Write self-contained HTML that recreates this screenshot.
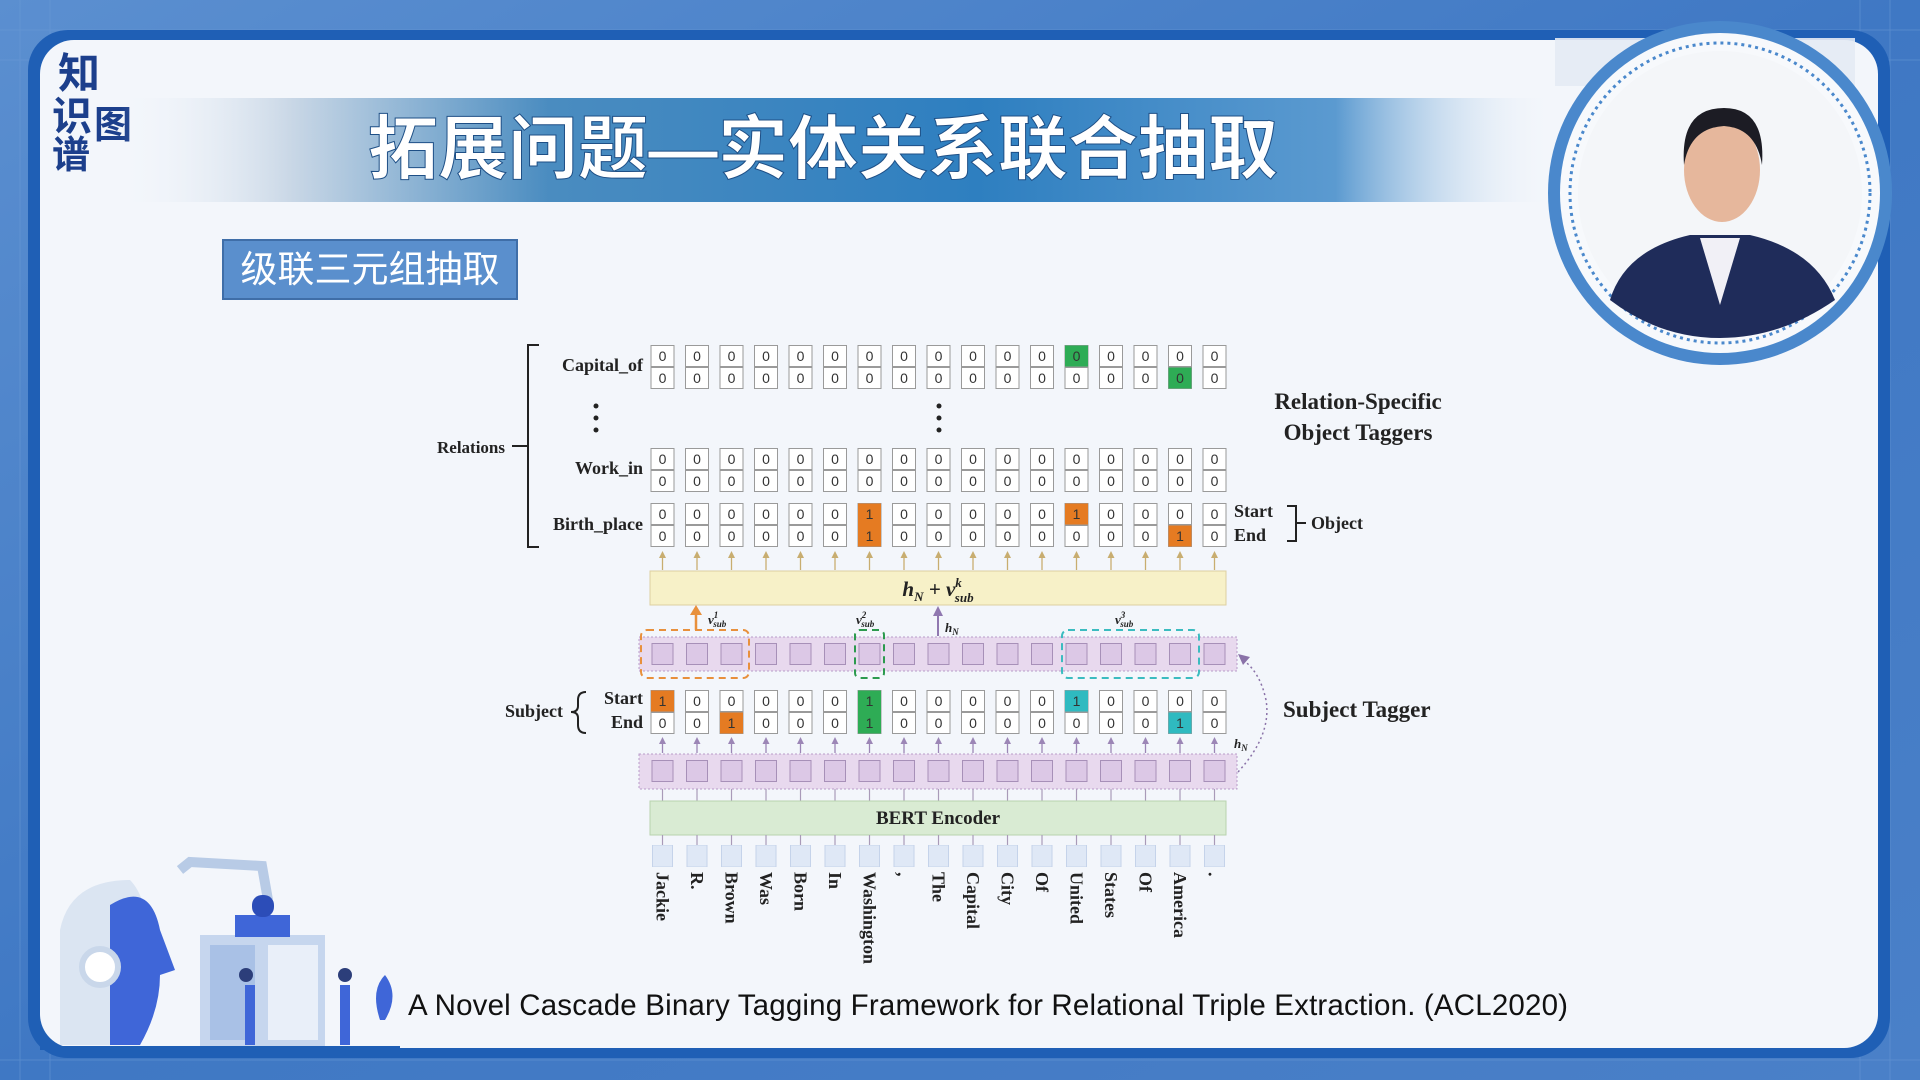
<!DOCTYPE html>
<html><head><meta charset="utf-8">
<style>
html,body{margin:0;padding:0;width:1920px;height:1080px;overflow:hidden;background:#3a74bf;}
svg{display:block}
.s{font-family:"Liberation Serif",serif;font-weight:bold;fill:#222}
</style></head><body>
<svg width="1920" height="1080" viewBox="0 0 1920 1080" xmlns="http://www.w3.org/2000/svg">
<defs>
<linearGradient id="bg" x1="0" y1="0" x2="1" y2="1">
<stop offset="0" stop-color="#5b8fd0"/><stop offset="0.5" stop-color="#3f78c4"/><stop offset="1" stop-color="#4a80c8"/></linearGradient>
<linearGradient id="band" x1="0" y1="0" x2="1" y2="0">
<stop offset="0" stop-color="#f2f6fb" stop-opacity="0"/><stop offset="0.12" stop-color="#c9d7e6"/><stop offset="0.3" stop-color="#4a8cc0"/><stop offset="0.6" stop-color="#2e7fc0"/><stop offset="0.85" stop-color="#5b9ad0"/><stop offset="1" stop-color="#eef3fa" stop-opacity="0"/></linearGradient>
<pattern id="cell" x="0" y="0" width="0.0588235" height="1" patternUnits="objectBoundingBox">
<rect x="0.5" y="0.5" width="23" height="21" fill="#fff" stroke="#9a9a9a"/>
<rect x="0.5" y="22.5" width="23" height="21" fill="#fff" stroke="#9a9a9a"/>
</pattern>
<pattern id="psq" x="0" y="0" width="0.0588235" height="1" patternUnits="objectBoundingBox">
<rect x="1.5" y="0.5" width="21" height="21" fill="#dcc8e6" stroke="#a790b8"/>
</pattern>
<pattern id="tok" x="0" y="0" width="0.0588235" height="1" patternUnits="objectBoundingBox">
<rect x="2" y="0" width="20" height="22" fill="#dfe8f6" stroke="#c5d3ea"/>
</pattern>
<pattern id="arY" x="0" y="0" width="0.0588235" height="1" patternUnits="objectBoundingBox">
<line x1="12" y1="4" x2="12" y2="19" stroke="#c8ad70" stroke-width="1.3"/>
<path d="M8.5 7 L12 0 L15.5 7Z" fill="#c8ad70"/>
</pattern>
<pattern id="arP" x="0" y="0" width="0.0588235" height="1" patternUnits="objectBoundingBox">
<line x1="12" y1="4" x2="12" y2="16" stroke="#9c86b6" stroke-width="1.3"/>
<path d="M8.5 7 L12 0 L15.5 7Z" fill="#9c86b6"/>
</pattern>
<pattern id="ln" x="0" y="0" width="0.0588235" height="1" patternUnits="objectBoundingBox">
<line x1="12" y1="0" x2="12" y2="40" stroke="#a99ab8" stroke-width="1.2"/>
</pattern>
</defs>
<!-- background -->
<rect width="1920" height="1080" fill="url(#bg)"/>
<g stroke="#6b9bd6" stroke-width="1" opacity="0.5">
<path d="M0 30H1920M0 60H1920M0 1060H1920M20 0V1080M50 0V1080M1890 0V1080M1860 0V1080"/>
</g>
<rect x="28" y="30" width="1862" height="1028" rx="40" fill="#1f5fb5"/>
<rect x="40" y="40" width="1838" height="1008" rx="34" fill="#f3f6fb"/>
<!-- logo -->
<g font-family="'Liberation Sans','Noto Sans CJK SC',sans-serif" font-weight="bold" fill="#1c3f8c">
<text x="58" y="88" font-size="42">知</text>
<text x="52" y="130" font-size="40">识</text>
<text x="94" y="138" font-size="38">图</text>
<text x="52" y="168" font-size="38">谱</text>
</g>
<!-- title band -->
<rect x="120" y="98" width="1430" height="104" fill="url(#band)"/>
<text x="823" y="173" text-anchor="middle" font-family="'Liberation Sans','Noto Sans CJK SC',sans-serif" font-weight="bold" font-size="70" fill="#fff" stroke="#1e4f86" stroke-width="1">拓展问题—实体关系联合抽取</text>
<!-- subtitle -->
<rect x="223" y="240" width="294" height="59" fill="#5a8fcd" stroke="#3f6ea8" stroke-width="2"/>
<text x="370" y="282" text-anchor="middle" font-family="'Liberation Sans','Noto Sans CJK SC',sans-serif" font-size="37" fill="#fff">级联三元组抽取</text>
<!-- speaker -->
<rect x="1555" y="38" width="300" height="48" fill="#e4ebf4" opacity="0.9"/>
<circle cx="1720" cy="193" r="172" fill="#4a88cc"/>
<circle cx="1720" cy="193" r="160" fill="#f7f9fc"/>
<circle cx="1720" cy="193" r="150" fill="none" stroke="#4a88cc" stroke-width="3" stroke-dasharray="3 4"/>
<circle cx="1720" cy="193" r="142" fill="#f4f6f9"/>
<path d="M1610 300 Q1625 250 1690 235 L1750 235 Q1815 250 1835 300 Q1780 338 1720 338 Q1660 338 1610 300Z" fill="#1f2c5a"/>
<path d="M1700 238 L1720 305 L1740 238Z" fill="#f1f0f6"/>
<ellipse cx="1722" cy="170" rx="38" ry="52" fill="#e6b79c"/>
<path d="M1684 165 Q1680 108 1724 108 Q1766 108 1762 165 Q1756 128 1724 126 Q1690 128 1684 165Z" fill="#1c1c24"/>
<!-- diagram -->
<g class="s">
<text x="643" y="371" font-size="18" text-anchor="end">Capital_of</text>
<text x="643" y="474" font-size="18" text-anchor="end">Work_in</text>
<text x="643" y="530" font-size="18" text-anchor="end">Birth_place</text>
<text x="505" y="453" font-size="17" text-anchor="end">Relations</text>
<path d="M539 345 H528 V547 H539 M528 446 H512" fill="none" stroke="#222" stroke-width="2"/>
<circle cx="596" cy="406" r="2.5"/><circle cx="596" cy="418" r="2.5"/><circle cx="596" cy="430" r="2.5"/>
<circle cx="939" cy="406" r="2.5"/><circle cx="939" cy="418" r="2.5"/><circle cx="939" cy="430" r="2.5"/>
<text x="1358" y="409" font-size="23" text-anchor="middle">Relation-Specific</text>
<text x="1358" y="440" font-size="23" text-anchor="middle">Object Taggers</text>
<text x="1234" y="517" font-size="18">Start</text>
<text x="1234" y="541" font-size="18">End</text>
<path d="M1287 506 H1296 V541 H1287 M1296 523 H1306" fill="none" stroke="#222" stroke-width="2"/>
<text x="1311" y="529" font-size="18">Object</text>
</g>
<!-- relation grids -->
<rect x="650.5" y="345" width="586.5" height="44" fill="url(#cell)"/>
<rect x="650.5" y="448" width="586.5" height="44" fill="url(#cell)"/>
<rect x="650.5" y="503" width="586.5" height="44" fill="url(#cell)"/>
<rect x="650.5" y="690" width="586.5" height="44" fill="url(#cell)"/>
<g>
<rect x="1065" y="345.5" width="23" height="21" fill="#2eac55"/>
<rect x="1168.5" y="367.5" width="23" height="21" fill="#2eac55"/>
<rect x="858" y="503.5" width="23" height="43" fill="#e57b22"/>
<rect x="1065" y="503.5" width="23" height="21" fill="#e57b22"/>
<rect x="1168.5" y="525.5" width="23" height="21" fill="#e57b22"/>
<rect x="651" y="690.5" width="23" height="21" fill="#e57b22"/>
<rect x="720" y="712.5" width="23" height="21" fill="#e57b22"/>
<rect x="858" y="690.5" width="23" height="43" fill="#2eac55"/>
<rect x="1065" y="690.5" width="23" height="21" fill="#2fbac0"/>
<rect x="1168.5" y="712.5" width="23" height="21" fill="#2fbac0"/>
</g>
<g font-family="'Liberation Sans',sans-serif" font-size="14" fill="#333" text-anchor="middle">
<text x="662.5 697 731.5 766 800.5 835 869.5 904 938.5 973 1007.5 1042 1076.5 1111 1145.5 1180 1214.5" y="361">00000000000000000</text>
<text x="662.5 697 731.5 766 800.5 835 869.5 904 938.5 973 1007.5 1042 1076.5 1111 1145.5 1180 1214.5" y="383">00000000000000000</text>
<text x="662.5 697 731.5 766 800.5 835 869.5 904 938.5 973 1007.5 1042 1076.5 1111 1145.5 1180 1214.5" y="464">00000000000000000</text>
<text x="662.5 697 731.5 766 800.5 835 869.5 904 938.5 973 1007.5 1042 1076.5 1111 1145.5 1180 1214.5" y="486">00000000000000000</text>
<text x="662.5 697 731.5 766 800.5 835 869.5 904 938.5 973 1007.5 1042 1076.5 1111 1145.5 1180 1214.5" y="519">00000010000010000</text>
<text x="662.5 697 731.5 766 800.5 835 869.5 904 938.5 973 1007.5 1042 1076.5 1111 1145.5 1180 1214.5" y="541">00000010000000010</text>
<text x="662.5 697 731.5 766 800.5 835 869.5 904 938.5 973 1007.5 1042 1076.5 1111 1145.5 1180 1214.5" y="706">10000010000010000</text>
<text x="662.5 697 731.5 766 800.5 835 869.5 904 938.5 973 1007.5 1042 1076.5 1111 1145.5 1180 1214.5" y="728">00100010000000010</text>
</g>
<!-- arrows up to relation -->
<rect x="650.5" y="551" width="586.5" height="19" fill="url(#arY)"/>
<!-- yellow box -->
<rect x="650" y="571" width="576" height="34" fill="#f7f1c8" stroke="#ddd0a0"/>
<text x="938" y="596" text-anchor="middle" font-family="'Liberation Serif',serif" font-style="italic" font-weight="bold" font-size="21" fill="#222">h<tspan font-size="13" dy="5">N</tspan><tspan dy="-5"> + v</tspan><tspan font-size="13" dy="-9">k</tspan><tspan font-size="13" dx="-7" dy="15">sub</tspan></text>
<!-- upper purple row -->
<rect x="639" y="637" width="598" height="34" fill="#e8d9ee" stroke="#b89cc8" stroke-dasharray="2 2"/>
<rect x="650.5" y="643" width="586.5" height="22" fill="url(#psq)"/>
<rect x="641" y="630" width="108" height="48" rx="6" fill="none" stroke="#e8903c" stroke-width="2" stroke-dasharray="7 5"/>
<rect x="855" y="630" width="29" height="48" rx="5" fill="none" stroke="#2c9a4e" stroke-width="2" stroke-dasharray="7 5"/>
<rect x="1062" y="630" width="137" height="48" rx="6" fill="none" stroke="#3bbcc0" stroke-width="2" stroke-dasharray="7 5"/>
<line x1="696" y1="630" x2="696" y2="612" stroke="#e8903c" stroke-width="2.5"/><path d="M690 615 L696 605 L702 615Z" fill="#e8903c"/>
<line x1="938" y1="636" x2="938" y2="614" stroke="#9078b0" stroke-width="2"/><path d="M933 616 L938 606 L943 616Z" fill="#9078b0"/>
<g font-family="'Liberation Serif',serif" font-style="italic" font-weight="bold" font-size="13" fill="#222">
<text x="708" y="624">v<tspan font-size="9" dy="-6">1</tspan><tspan font-size="9" dx="-5" dy="9">sub</tspan></text>
<text x="856" y="624">v<tspan font-size="9" dy="-6">2</tspan><tspan font-size="9" dx="-5" dy="9">sub</tspan></text>
<text x="945" y="632">h<tspan font-size="9" dy="3">N</tspan></text>
<text x="1115" y="624">v<tspan font-size="9" dy="-6">3</tspan><tspan font-size="9" dx="-5" dy="9">sub</tspan></text>
<text x="1234" y="748">h<tspan font-size="9" dy="3">N</tspan></text>
</g>
<!-- subject labels -->
<g class="s">
<text x="563" y="717" font-size="18" text-anchor="end">Subject</text>
<path d="M586 692 Q578 692 578 700 V706 Q578 712 571 712 Q578 712 578 718 V725 Q578 733 586 733" fill="none" stroke="#222" stroke-width="2"/>
<text x="643" y="704" font-size="18" text-anchor="end">Start</text>
<text x="643" y="728" font-size="18" text-anchor="end">End</text>
<text x="1283" y="717" font-size="23">Subject Tagger</text>
</g>
<rect x="650.5" y="737" width="586.5" height="16" fill="url(#arP)"/>
<!-- lower purple row -->
<rect x="639" y="754" width="598" height="35" fill="#e8d9ee" stroke="#b89cc8" stroke-dasharray="2 2"/>
<rect x="650.5" y="760" width="586.5" height="22" fill="url(#psq)"/>
<path d="M1238 772 Q1272 735 1266 700 Q1260 672 1243 660" fill="none" stroke="#8a72a8" stroke-width="1.5" stroke-dasharray="2 3"/>
<path d="M1238 654 L1250 657 L1243 665Z" fill="#8a72a8"/>
<rect x="650.5" y="789" width="586.5" height="12" fill="url(#ln)"/>
<!-- BERT -->
<rect x="650" y="801" width="576" height="34" fill="#d9ebd3" stroke="#b8d3ae"/>
<text x="938" y="824" text-anchor="middle" class="s" font-size="19">BERT Encoder</text>
<rect x="650.5" y="835" width="586.5" height="10" fill="url(#ln)"/>
<rect x="650.5" y="845" width="586.5" height="22" fill="url(#tok)"/>
<!-- words -->
<g class="s" font-size="18" dominant-baseline="central">
<text transform="translate(662.5,872) rotate(90)">Jackie</text>
<text transform="translate(697,872) rotate(90)">R.</text>
<text transform="translate(731.5,872) rotate(90)">Brown</text>
<text transform="translate(766,872) rotate(90)">Was</text>
<text transform="translate(800.5,872) rotate(90)">Born</text>
<text transform="translate(835,872) rotate(90)">In</text>
<text transform="translate(869.5,872) rotate(90)">Washington</text>
<text transform="translate(904,872) rotate(90)">,</text>
<text transform="translate(938.5,872) rotate(90)">The</text>
<text transform="translate(973,872) rotate(90)">Capital</text>
<text transform="translate(1007.5,872) rotate(90)">City</text>
<text transform="translate(1042,872) rotate(90)">Of</text>
<text transform="translate(1076.5,872) rotate(90)">United</text>
<text transform="translate(1111,872) rotate(90)">States</text>
<text transform="translate(1145.5,872) rotate(90)">Of</text>
<text transform="translate(1180,872) rotate(90)">America</text>
<text transform="translate(1214.5,872) rotate(90)">.</text>
</g>
<!-- illustration -->
<g>
<path d="M180 870 L190 862 L262 866 L268 900" fill="none" stroke="#b8cbe6" stroke-width="10"/>
<path d="M60 930 Q70 880 130 880 Q150 900 150 960 Q140 1000 120 1045 L60 1045Z" fill="#dbe5f2"/>
<path d="M110 905 Q150 880 160 930 L175 970 L160 975 Q160 1010 140 1045 L110 1045Z" fill="#3f66d8"/>
<circle cx="100" cy="967" r="18" fill="#fff" stroke="#c9d7ea" stroke-width="6"/>
<rect x="200" y="935" width="125" height="112" fill="#c6d6ee"/>
<rect x="210" y="945" width="45" height="95" fill="#a9c1e6"/>
<rect x="268" y="945" width="50" height="95" fill="#e9eff9"/>
<rect x="235" y="915" width="55" height="22" fill="#3f66d8"/>
<rect x="252" y="895" width="22" height="22" rx="10" fill="#2c4db8"/>
<path d="M245 1045 V985 H255 V1045Z M340 1045 V985 H350 V1045Z" fill="#3f66d8"/>
<circle cx="246" cy="975" r="7" fill="#2c3e7a"/><circle cx="345" cy="975" r="7" fill="#2c3e7a"/>
<path d="M380 1020 Q370 990 385 975 Q400 995 385 1020Z" fill="#3f66d8"/>
<rect x="40" y="1046" width="360" height="4" fill="#1f5fb5"/>
</g>
<!-- citation -->
<text x="408" y="1015" font-family="'Liberation Sans',sans-serif" font-size="29.5" textLength="1160" fill="#111">A Novel Cascade Binary Tagging Framework for Relational Triple Extraction. (ACL2020)</text>
</svg>
</body></html>
